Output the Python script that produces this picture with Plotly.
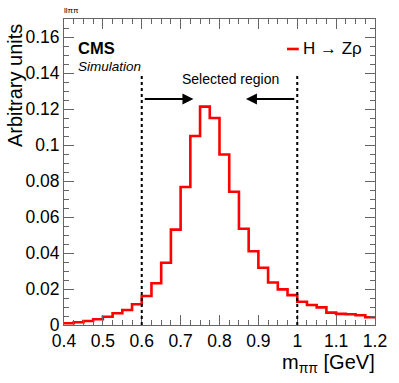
import plotly.graph_objects as go

# m_pipi histogram, 32 bins of 0.025 GeV between 0.4 and 1.2
bin_edges = [round(0.4 + 0.025 * i, 3) for i in range(33)]
h_zrho = [
    0.0010, 0.0015, 0.0022, 0.0032, 0.0046, 0.0065, 0.0083, 0.0115,
    0.0161, 0.0232, 0.0346, 0.0530, 0.0767, 0.1050, 0.1213, 0.1150,
    0.0947, 0.0740, 0.0535, 0.0410, 0.0318, 0.0236, 0.0198, 0.0166,
    0.0129, 0.0111, 0.0098, 0.0069, 0.0062, 0.0060, 0.0054, 0.0043,
]
window = [0.6, 1.0]
window_top = 0.14
arrow_y = 0.1255
arrow_tips = [0.733, 0.868]

FONT = "Liberation Sans, Arial, Helvetica, sans-serif"
AXCOL = "#666666"

fig = go.Figure()
fig.add_trace(go.Scatter(
    x=bin_edges, y=h_zrho + [h_zrho[-1]],
    mode="lines", line=dict(color="#ff0000", width=2.6, shape="hv"),
    showlegend=False, hoverinfo="skip",
))

# selected window
for xv in window:
    fig.add_shape(type="line", xref="x", yref="y", x0=xv, x1=xv, y0=0, y1=window_top,
                  line=dict(color="black", width=2, dash="dot"))
for tail, tip in zip(window, arrow_tips):
    fig.add_annotation(x=tip, y=arrow_y, ax=tail, ay=arrow_y, axref="x", ayref="y",
                       xref="x", yref="y", text=" ", showarrow=True,
                       arrowhead=2, arrowsize=1.1, arrowwidth=2, arrowcolor="black")
fig.add_annotation(x=0.827, y=0.1365, xref="x", yref="y", text="Selected region",
                   showarrow=False, font=dict(family=FONT, size=14, color="black"))

# labels
fig.add_annotation(x=0.04, y=0.905, xref="paper", yref="paper", text="<b>CMS</b>",
                   showarrow=False, xanchor="left", yanchor="middle",
                   font=dict(family=FONT, size=16.5, color="black"))
fig.add_annotation(x=0.04, y=0.846, xref="paper", yref="paper", text="<i>Simulation</i>",
                   showarrow=False, xanchor="left", yanchor="middle",
                   font=dict(family=FONT, size=13.5, color="black"))
fig.add_annotation(x=-0.005, y=1.005, xref="paper", yref="paper", text="llππ",
                   showarrow=False, xanchor="left", yanchor="bottom",
                   font=dict(family=FONT, size=8, color="black"))

# legend
fig.add_shape(type="line", xref="paper", yref="paper", x0=0.717, x1=0.755, y0=0.902, y1=0.902,
              line=dict(color="#ff0000", width=2.6))
fig.add_annotation(x=0.763, y=0.902, xref="paper", yref="paper", text="H → Zρ",
                   showarrow=False, xanchor="left", yanchor="middle",
                   font=dict(family=FONT, size=17, color="black"))

# axis titles
fig.add_annotation(x=-0.159, y=0.99, xref="paper", yref="paper", text="Arbitrary units",
                   textangle=-90, showarrow=False, xanchor="center", yanchor="top",
                   font=dict(family=FONT, size=20, color="black"))
fig.add_annotation(x=1.006, y=-0.08, xref="paper", yref="paper", text="m<sub>ππ</sub> [GeV]",
                   showarrow=False, xanchor="right", yanchor="top",
                   font=dict(family=FONT, size=20, color="black"))

axis_common = dict(
    showline=True, linecolor=AXCOL, linewidth=1, mirror="allticks",
    ticks="inside", ticklen=10, tickwidth=1, tickcolor=AXCOL,
    showgrid=False, zeroline=False,
    tickfont=dict(family=FONT, size=17.5, color="black"),
)
fig.update_xaxes(range=[0.4, 1.2], tick0=0.4, dtick=0.1,
                 minor=dict(dtick=0.025, ticks="inside", ticklen=5, tickcolor=AXCOL, showgrid=False),
                 **axis_common)
fig.update_yaxes(range=[0, 0.17], tick0=0, dtick=0.02,
                 minor=dict(dtick=0.005, ticks="inside", ticklen=5, tickcolor=AXCOL, showgrid=False),
                 **axis_common)

fig.update_layout(
    width=399, height=383,
    margin=dict(l=64, r=20, t=19, b=58),
    plot_bgcolor="white", paper_bgcolor="white",
    font=dict(family=FONT, color="black"),
)

# the page body has a default 8px margin; drop it so the figure sits at the window origin
fig.write_html("out.html", config={"displayModeBar": False},
               post_script="document.body.style.margin='0';")
